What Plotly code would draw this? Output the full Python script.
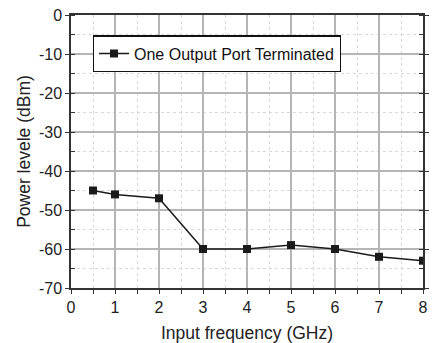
import plotly.graph_objects as go

freq = [0.5, 1, 2, 3, 4, 5, 6, 7, 8]
power = [-45, -46, -47, -60, -60, -59, -60, -62, -63]
series_name = "One Output Port Terminated"
x_ticks = [0, 1, 2, 3, 4, 5, 6, 7, 8]
x_labels = ["0", "1", "2", "3", "4", "5", "6", "7", "8"]
y_ticks = [0, -10, -20, -30, -40, -50, -60, -70]
y_labels = ["0", "-10", "-20", "-30", "-40", "-50", "-60", "-70"]

fig = go.Figure()
fig.add_trace(go.Scatter(
    x=freq, y=power, mode="lines+markers", name=series_name,
    line=dict(color="#1a1a1a", width=1.5),
    marker=dict(symbol="square", size=8, color="#1a1a1a"),
    showlegend=True,
))

font = "Liberation Sans, Arial, sans-serif"
axis_common = dict(
    showline=True, linecolor="#333", linewidth=1.5, automargin=False,
    showgrid=True, gridcolor="#b5b5b5", gridwidth=1.5,
    ticks="outside", ticklen=4, tickcolor="#333", tickwidth=1,
    tickfont=dict(family=font, size=16, color="#222"),
    zeroline=False,
)
fig.update_xaxes(
    range=[0, 8], tickvals=x_ticks, ticktext=x_labels, mirror=True,
    title=dict(text="Input frequency (GHz)", font=dict(family=font, size=17.5, color="#222"), standoff=14),
    minor=dict(dtick=0.5, tick0=0, showgrid=True, gridcolor="#d8d8d8", griddash="dot", gridwidth=1,
               ticks="outside", ticklen=4, tickcolor="#333"),
    **axis_common,
)
fig.update_yaxes(
    range=[-70, 0], tickvals=y_ticks, ticktext=y_labels, mirror="ticks",
    title=dict(text="Power levele (dBm)", font=dict(family=font, size=17.5, color="#222"), standoff=4),
    minor=dict(dtick=5, tick0=0, showgrid=True, gridcolor="#d8d8d8", griddash="dot", gridwidth=1,
               ticks="inside", ticklen=4, tickcolor="#333"),
    **axis_common,
)
fig.update_layout(
    width=432, height=343,
    margin=dict(l=71, r=9, t=15, b=55),
    paper_bgcolor="white", plot_bgcolor="white",
    legend=dict(x=0.062, y=0.925, xanchor="left", yanchor="top",
                bgcolor="white", bordercolor="#111", borderwidth=1.2,
                font=dict(family=font, size=16, color="#111"),
                itemwidth=30, tracegroupgap=0),
)
fig.write_html("out.html")
